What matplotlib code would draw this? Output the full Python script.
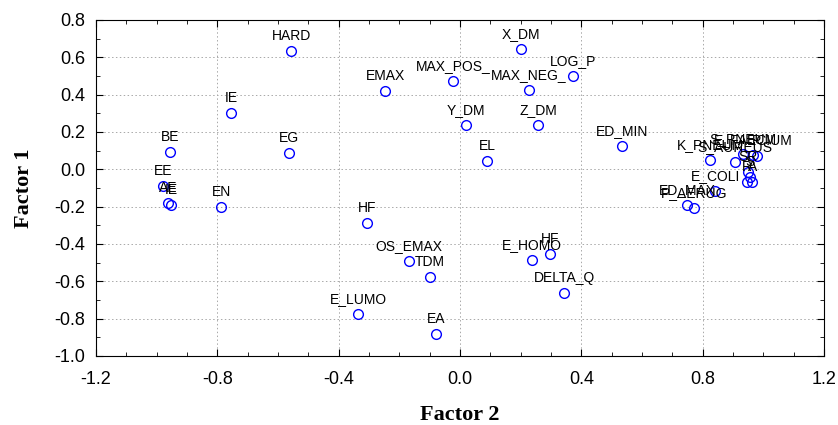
import matplotlib.pyplot as plt
from matplotlib.ticker import MultipleLocator

# loadings: factor 2 on x, factor 1 on y
names = ["HARD", "X_DM", "MAX_POS_", "LOG_P", "MAX_NEG_", "EMAX", "IE", "Y_DM",
         "Z_DM", "ED_MIN", "BE", "EG", "EL", "EE", "AE", "IE", "EN", "HF",
         "OS_EMAX", "TDM", "E_HOMO", "HF", "DELTA_Q", "E_LUMO", "EA",
         "K_PNEUM", "S_AUREUS", "S_PNEUM", "E_FAECIUM", "P", "SR", "S", "R", "A",
         "E_COLI", "ED_MAX", "P_AERUG"]
factor2 = [-0.557, 0.201, -0.023, 0.373, 0.227, -0.247, -0.755, 0.020,
           0.257, 0.534, -0.956, -0.564, 0.089, -0.979, -0.962, -0.952, -0.788, -0.307,
           -0.168, -0.099, 0.237, 0.297, 0.343, -0.336, -0.079,
           0.824, 0.907, 0.933, 0.966, 0.979, 0.950, 0.956, 0.946, 0.963,
           0.841, 0.748, 0.772]
factor1 = [0.632, 0.643, 0.471, 0.498, 0.423, 0.418, 0.300, 0.236,
           0.236, 0.123, 0.091, 0.086, 0.043, -0.091, -0.182, -0.193, -0.204, -0.289,
           -0.493, -0.578, -0.487, -0.455, -0.664, -0.777, -0.884,
           0.048, 0.037, 0.080, 0.075, 0.070, -0.016, -0.043, -0.070, -0.070,
           -0.118, -0.193, -0.209]

plt.rcParams['font.family'] = ['Liberation Sans', 'DejaVu Sans']

fig = plt.figure(figsize=(8.38, 4.25), dpi=100)
ax = fig.add_axes([0.1146, 0.1624, 0.8687, 0.7906])

ax.plot(factor2, factor1, linestyle='none', marker='o', markersize=7,
        markerfacecolor='none', markeredgecolor='#0000ff', markeredgewidth=1.0, zorder=3)

for n, x, y in zip(names, factor2, factor1):
    ax.annotate(n, (x, y), xytext=(0, 6), textcoords='offset points',
                ha='center', va='bottom', fontsize=10)

ax.set_xlim(-1.2, 1.2)
ax.set_ylim(-1.0, 0.8)
ax.xaxis.set_major_locator(MultipleLocator(0.4))
ax.xaxis.set_minor_locator(MultipleLocator(0.1))
ax.yaxis.set_major_locator(MultipleLocator(0.2))
ax.yaxis.set_minor_locator(MultipleLocator(0.1))
ax.xaxis.set_major_formatter(lambda v, p: f"{v:.1f}")
ax.yaxis.set_major_formatter(lambda v, p: f"{v:.1f}")
ax.tick_params(which='both', direction='in', top=True, right=True, labelsize=13)
ax.tick_params(which='major', length=5)
ax.tick_params(which='minor', length=3)
ax.tick_params(axis='x', which='major', pad=11)
ax.tick_params(axis='y', which='major', pad=8)
ax.grid(True, which='major', linestyle=(0, (1.5, 2.5)), color='#a8a8a8', linewidth=0.7)

ax.set_xlabel("Factor 2", fontsize=16, fontweight='bold', family='Liberation Serif', labelpad=12)
ax.set_ylabel("Factor 1", fontsize=16, fontweight='bold', family='Liberation Serif', labelpad=14)

plt.savefig("out.png", dpi=100)
